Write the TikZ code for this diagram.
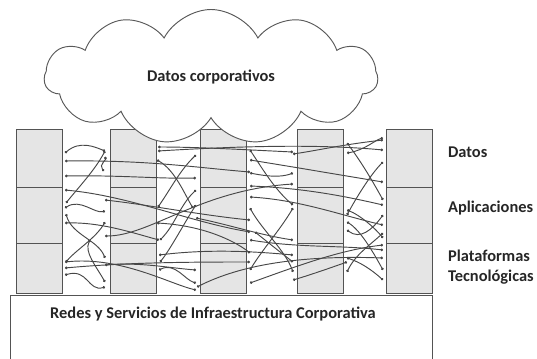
\documentclass[tikz,border=0pt]{standalone}
\usepackage{fontspec}
\setmainfont{Carlito}
\usetikzlibrary{shapes.symbols,arrows.meta}

\tikzset{
  pillar/.style={fill=gray!20, draw=gray!65!black, line width=0.8pt},
  wire/.style={draw=black!72, line width=0.8pt, {Circle[length=2.2pt]}-{Circle[length=2.2pt]}},
  lbl/.style={font=\fontsize{14}{16.5}\selectfont\bfseries, text=black!85},
}

\begin{document}
\begin{tikzpicture}[x=0.03cm, y=-0.03cm]
\useasboundingbox (0,0) rectangle (537,358);

% base
\draw[pillar, fill=white] (10,295) rectangle (432,360);
\node[lbl] (redes) at (213,314) {Redes y Servicios de Infraestructura Corporativa};

% columns
\foreach \xl in {16,110,200,297,386}{
  \draw[pillar] (\xl,129) rectangle ++(46,164);
  \draw[pillar] (\xl,187) -- ++(46,0);
  \draw[pillar] (\xl,243) -- ++(46,0);
}

% wires
\foreach \xa/\ya/\xb/\yb/\xc/\yc/\xd/\yd in {
  65/153/80/140/95/147/105/151,
  65/161/150/160/200/168/250/172,
  105/151/95/170/78/188/66/203,
  104/171/98/165/108/158/104/158,
  65/176/120/175/160/179/196/178,
  65/190/130/196/190/222/250/232,
  65/208/80/198/95/214/105/211,
  65/223/100/222/130/232/159/240,
  66/214/72/235/98/240/105/258,
  105/222/96/238/76/250/66/262,
  65/262/120/256/170/284/196/290,
  65/275/88/268/88/292/105/287,
  105/282/96/266/84/252/90/240,
  65/268/130/262/200/262/250/262,
  105/236/150/236/200/190/293/184,
  105/200/150/205/200/215/250/220,
  105/265/140/262/170/268/196/270,
  158/147/200/147/250/150/293/152,
  158/151/240/146/320/144/383/150,
  196/155/180/170/170/190/158/207,
  157/160/175/170/185/195/193/208,
  196/190/180/205/175/225/160/240,
  196/205/186/220/170/250/160/262,
  159/270/175/262/185/280/196/283,
  196/218/230/225/260/235/293/240,
  157/223/210/226/240/245/250/253,
  159/255/200/250/240/250/293/255,
  197/287/240/265/300/255/383/258,
  250/150/262/168/275/190/293/205,
  293/154/320/150/340/145/383/140,
  250/173/275/178/285/176/293/173,
  250/186/300/188/340/195/383/205,
  250/197/300/200/340/215/383/225,
  250/208/262/230/285/250/293/272,
  293/208/280/230/262/250/250/270,
  250/240/300/248/340/245/383/250,
  250/283/300/265/340/250/383/245,
  293/262/280/252/265/240/255/232,
  347/143/360/160/372/180/383/200,
  383/162/370/175/355/200/347/215,
  347/153/365/150/375/140/383/138,
  347/230/360/240/372/230/383/215,
  383/233/370/245/355/255/347/272,
  347/222/360/230/372/250/383/270,
  347/258/360/262/372/270/383/280,
  383/238/375/228/360/215/347/210,
  250/160/300/168/340/175/383/182,
  293/280/310/275/330/268/347/262}
  \draw[wire] (\xa,\ya) .. controls (\xb,\yb) and (\xc,\yc) .. (\xd,\yd);

% cloud
\node[cloud, cloud puffs=11, cloud puff arc=125, aspect=2.6, draw=black!65, fill=white, line width=0.8pt,
  minimum width=10cm, minimum height=4.05cm, lbl] (nube) at (211,77) {Datos corporativos};

% layer labels
\node[lbl, anchor=west] (datos) at (444,152) {Datos};
\node[lbl, anchor=west] (aplic) at (444,208) {Aplicaciones};
\node[lbl, anchor=west, align=left] (plataf) at (444,267) {Plataformas\\Tecnológicas};
\end{tikzpicture}
\end{document}
